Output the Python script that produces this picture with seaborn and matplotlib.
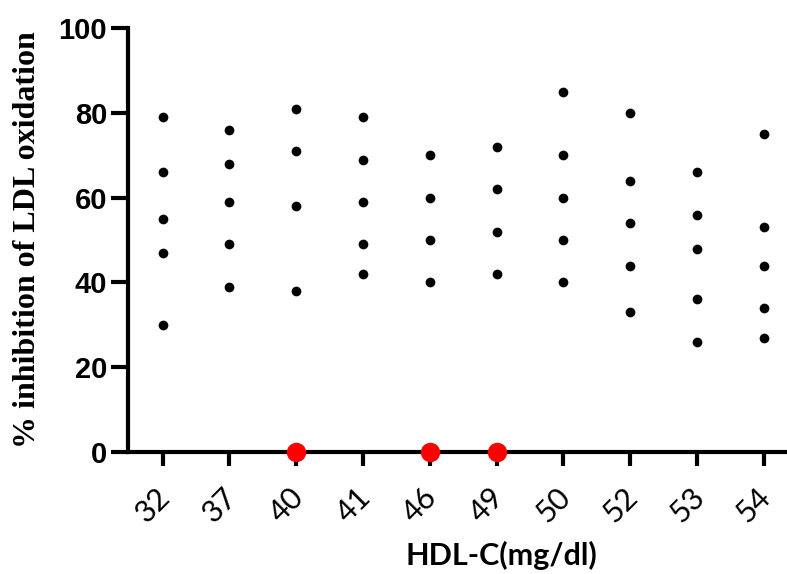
import pandas as pd
import matplotlib.pyplot as plt
import matplotlib.transforms as mtransforms
import seaborn as sns

# HDL-C groups and % inhibition of LDL oxidation
hdl_levels = ["32", "37", "40", "41", "46", "49", "50", "52", "53", "54"]
inhib_32 = [79, 66, 55, 47, 30]
inhib_37 = [76, 68, 59, 49, 39]
inhib_40 = [81, 71, 58, 38]
inhib_41 = [79, 69, 59, 49, 42]
inhib_46 = [70, 60, 50, 40]
inhib_49 = [72, 62, 52, 42]
inhib_50 = [85, 70, 60, 50, 40]
inhib_52 = [80, 64, 54, 44, 33]
inhib_53 = [66, 56, 48, 36, 26]
inhib_54 = [75, 53, 44, 34, 27]
zero_levels = ["40", "46", "49"]
zero_values = [0, 0, 0]

groups = [inhib_32, inhib_37, inhib_40, inhib_41, inhib_46,
          inhib_49, inhib_50, inhib_52, inhib_53, inhib_54]
rows = []
for lvl, vals in zip(hdl_levels, groups):
    for v in vals:
        rows.append({"hdl": lvl, "inhibition": v})
df = pd.DataFrame(rows)
df_zero = pd.DataFrame({"hdl": zero_levels, "inhibition": zero_values})

sns.set_style("ticks", {"axes.edgecolor": "black", "text.color": "black",
                        "xtick.color": "black", "ytick.color": "black",
                        "axes.labelcolor": "black"})
plt.rcParams["font.family"] = ["Liberation Sans", "DejaVu Sans"]

fig = plt.figure(figsize=(7.87, 5.74), dpi=100)
ax = fig.add_axes([0.1626, 0.2125, 0.8374, 0.7385])

sns.stripplot(data=df, x="hdl", y="inhibition", order=hdl_levels,
              jitter=False, color="black", size=7, ax=ax)
sns.stripplot(data=df_zero, x="hdl", y="inhibition", order=hdl_levels,
              jitter=False, color="#ff0000", size=14, ax=ax, zorder=5)
for coll in ax.collections:
    coll.set_clip_on(False)

ax.set_ylim(0, 100)
ax.set_xlim(-0.52, 9.35)
ax.set_yticks([0, 20, 40, 60, 80, 100])

for side in ["top", "right"]:
    ax.spines[side].set_visible(False)
for side in ["left", "bottom"]:
    ax.spines[side].set_linewidth(3)

ax.tick_params(axis="y", length=12, width=3, direction="out", pad=3)
ax.tick_params(axis="x", length=10, width=3, direction="out", pad=12)

shift = mtransforms.ScaledTranslation(-7 / 72, 0, fig.dpi_scale_trans)
for lab in ax.get_yticklabels():
    lab.set_fontsize(21)
    lab.set_fontweight("bold")
for lab in ax.get_xticklabels():
    lab.set_fontsize(22)
    lab.set_family("Lato")
    lab.set_rotation(45)
    lab.set_ha("center")
    lab.set_va("top")
    lab.set_transform(lab.get_transform() + shift)

ax.set_xlabel("")
ax.set_ylabel("% inhibition of LDL oxidation", fontsize=23, fontweight="bold",
              family="Liberation Serif", labelpad=12)
fig.text(0.637, 0.033, "HDL-C(mg/dl)", fontsize=22, fontweight="bold",
         family="Lato", ha="center", va="center")

plt.savefig("out.png", dpi=100)
